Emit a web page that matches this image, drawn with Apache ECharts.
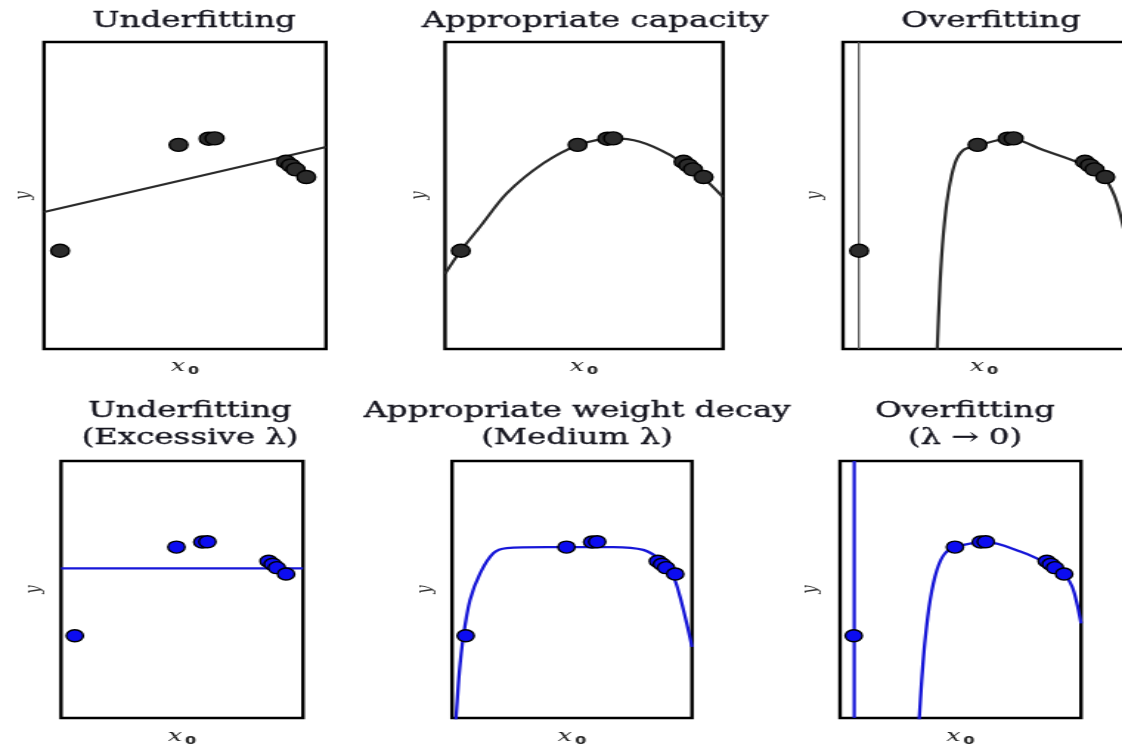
<!DOCTYPE html>
<html>
<head>
<meta charset="utf-8">
<script src="https://cdn.jsdelivr.net/npm/echarts@6/dist/echarts.min.js"></script>
<style>
  html, body { margin: 0; padding: 0; background: #fff; overflow: hidden; }
  /* figure is laid out on a narrower canvas and widened horizontally */
  #chart { width: 760px; height: 747px; transform-origin: 0 0; transform: scaleX(1.4763158); }
</style>
</head>
<body>
<div id="chart"></div>
<script>
// ---- training samples (shared by all six panels) ----
const sampleX = [0.57, 4.77, 5.84, 6.05, 8.58, 8.75, 8.92, 9.30];
const sampleY = [3.20, 6.65, 6.85, 6.86, 6.10, 5.98, 5.85, 5.60];

// ---- fitted models, top row ----
const linearFitX = [0, 10];
const linearFitY = [4.46, 6.58];

const quadFitX = [0, 0.54, 1.26, 2.22, 3.54, 4.79, 6.05, 7.01, 8.09, 9.17, 10];
const quadFitY = [2.45, 3.17, 3.98, 5.07, 6.05, 6.64, 6.86, 6.75, 6.32, 5.67, 4.95];

const highDegSpikeX = [0.56, 0.56];
const highDegSpikeY = [0, 10];
const highDegX = [3.32, 3.44, 3.56, 3.73, 3.97, 4.27, 4.74, 5.92, 7.10, 8.40, 9.23, 9.59, 9.82, 10.0, 10.15];
const highDegY = [-0.5, 2.14, 3.76, 5.07, 6.05, 6.48, 6.62, 6.86, 6.48, 6.05, 5.61, 5.07, 4.42, 3.60, 0.0];

// ---- fitted models, bottom row (weight decay) ----
const heavyDecayX = [0, 10];
const heavyDecayY = [5.82, 5.82];

const mediumDecayX = [0.12, 0.17, 0.30, 0.47, 0.75, 1.17, 1.72, 2.28, 3.95, 6.72, 7.97, 8.67, 9.22, 9.50, 9.78, 10.0];
const mediumDecayY = [-0.5, 0.05, 1.73, 3.16, 4.59, 5.63, 6.41, 6.61, 6.65, 6.65, 6.54, 6.15, 5.50, 4.72, 3.68, 2.77];

const noDecaySpikeX = [0.59, 0.59];
const noDecaySpikeY = [0, 10];
const noDecayX = [3.25, 3.29, 3.39, 3.53, 3.74, 4.02, 4.36, 4.85, 6.09, 7.48, 8.59, 9.28, 9.63, 9.83, 10.0];
const noDecayY = [-0.5, 0.01, 1.47, 3.04, 4.59, 5.76, 6.41, 6.67, 6.84, 6.48, 6.02, 5.63, 5.11, 4.46, 3.68];

const panelTitles = [
  ['Underfitting'],
  ['Appropriate capacity'],
  ['Overfitting'],
  ['Underfitting', '(Excessive \u03bb)'],
  ['Appropriate weight decay', '(Medium \u03bb)'],
  ['Overfitting', '(\u03bb \u2192 0)']
];

// ---- layout (page pixels, before horizontal widening) ----
const SX = 1122 / 760;
const gx = v => v / SX;

const layout = [
  { box: [44, 42, 282, 307],  yGap: 6,  xGap: 8,  titleX: 194, titleY: [21] },
  { box: [445, 42, 278, 307], yGap: 10, xGap: 8,  titleX: 595, titleY: [21] },
  { box: [843, 42, 282, 307], yGap: 11, xGap: 8,  titleX: 991, titleY: [21] },
  { box: [61, 461, 242, 257], yGap: 11, xGap: 9,  titleX: 190, titleY: [411, 438] },
  { box: [452, 461, 240, 257],yGap: 11, xGap: 9,  titleX: 577, titleY: [411, 438] },
  { box: [840, 461, 241, 257],yGap: 12, xGap: 9,  titleX: 965, titleY: [411, 438] }
];

const BLACK_LINE = '#2a2a2a';
const BLUE_LINE = '#1717d8';
const DOT_DARK = '#2b2b2b';
const DOT_BLUE = '#0c0cf0';

const pairs = (xs, ys) => xs.map((x, i) => [x, ys[i]]);

const grids = [], xAxes = [], yAxes = [], series = [], graphics = [];

layout.forEach((p, i) => {
  const [l, t, w, h] = p.box;
  grids.push({
    left: gx(l), top: t, width: gx(w), height: h,
    show: true, borderColor: '#000', borderWidth: 2.4,
    containLabel: false, outerBoundsMode: 'none'
  });
  xAxes.push({
    gridIndex: i, type: 'value', min: 0, max: 10,
    axisLine: { show: false }, axisTick: { show: false },
    axisLabel: { show: false }, splitLine: { show: false },
    name: '{v|x}{s|0}', nameLocation: 'middle', nameGap: p.xGap,
    nameTextStyle: {
      rich: {
        v: { fontFamily: 'DejaVu Serif', fontStyle: 'italic', fontSize: 17, color: '#222', lineHeight: 20 },
        s: { fontFamily: 'DejaVu Sans', fontWeight: 'bold', fontSize: 11, color: '#222',
             lineHeight: 12, verticalAlign: 'bottom', padding: [0, 0, 0, 2] }
      }
    }
  });
  yAxes.push({
    gridIndex: i, type: 'value', min: 0, max: 10,
    axisLine: { show: false }, axisTick: { show: false },
    axisLabel: { show: false }, splitLine: { show: false },
    name: 'y', nameLocation: 'middle', nameGap: p.yGap,
    nameTextStyle: { fontFamily: 'DejaVu Serif', fontStyle: 'italic', fontSize: 15, color: '#333' }
  });
  panelTitles[i].forEach((txt, k) => {
    graphics.push({
      type: 'text', x: gx(p.titleX), y: p.titleY[k],
      style: { text: txt, font: '22px "DejaVu Serif"', fill: '#15151f',
               stroke: '#15151f', lineWidth: 0.35,
               align: 'center', verticalAlign: 'middle' }
    });
  });
});

function curve(idx, xs, ys, color, width, smooth) {
  series.push({
    type: 'line', xAxisIndex: idx, yAxisIndex: idx,
    data: pairs(xs, ys), symbol: 'none', smooth: smooth ? 0.3 : false,
    clip: true, z: 2,
    lineStyle: { color: color, width: width }
  });
}
function samples(idx, fill, size) {
  series.push({
    type: 'scatter', xAxisIndex: idx, yAxisIndex: idx,
    data: pairs(sampleX, sampleY), symbol: 'circle', symbolSize: size, z: 3,
    itemStyle: { color: fill, borderColor: '#000', borderWidth: 1.4, opacity: 1 }
  });
}

// top row: capacity
curve(0, linearFitX, linearFitY, BLACK_LINE, 2.2, false);
curve(1, quadFitX, quadFitY, BLACK_LINE, 2.2, true);
curve(2, highDegSpikeX, highDegSpikeY, '#555', 1.3, false);
curve(2, highDegX, highDegY, BLACK_LINE, 2.2, true);
// bottom row: weight decay
curve(3, heavyDecayX, heavyDecayY, BLUE_LINE, 2.2, false);
curve(4, mediumDecayX, mediumDecayY, BLUE_LINE, 2.3, true);
curve(5, noDecaySpikeX, noDecaySpikeY, BLUE_LINE, 2.2, false);
curve(5, noDecayX, noDecayY, BLUE_LINE, 2.3, true);

for (let i = 0; i < 3; i++) samples(i, DOT_DARK, [12.5, 13]);
for (let i = 3; i < 6; i++) samples(i, DOT_BLUE, [11.5, 12]);

const chart = echarts.init(document.getElementById('chart'), null, { renderer: 'canvas' });
chart.setOption({
  animation: false,
  backgroundColor: '#fff',
  grid: grids, xAxis: xAxes, yAxis: yAxes, series: series,
  graphic: graphics
});
</script>
</body>
</html>
